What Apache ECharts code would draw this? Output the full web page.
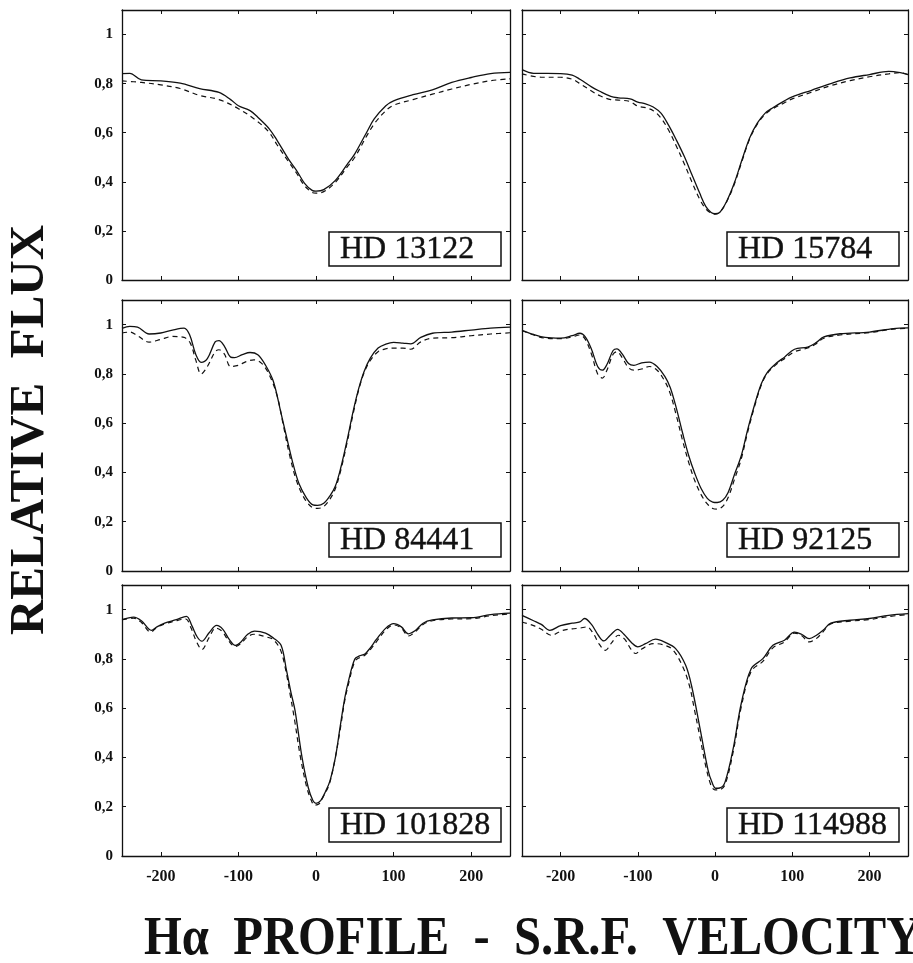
<!DOCTYPE html>
<html>
<head>
<meta charset="utf-8">
<script src="https://cdn.jsdelivr.net/npm/echarts@6/dist/echarts.min.js"></script>
<style>
html,body{margin:0;padding:0;background:#fff;}
#chart{width:913px;height:963px;}
</style>
</head>
<body>
<div id="chart"></div>
<script>
// ---------- tick labels ----------
const xTicks = [-200, -100, 0, 100, 200];
const xTickLabels = ['-200', '-100', '0', '100', '200'];
const yTicks = [0, 0.2, 0.4, 0.6, 0.8, 1];
const yTickLabels = ['0', '0,2', '0,4', '0,6', '0,8', '1'];
const starNames = ['HD 13122', 'HD 15784', 'HD 84441', 'HD 92125', 'HD 101828', 'HD 114988'];

// ---------- data: [velocity km/s, relative flux] ----------
// solid = observed profile, dashed = second profile
const solid13122 = [[-250,0.841],[-240,0.842],[-225,0.815],[-200,0.811],[-175,0.802],[-150,0.780],[-125,0.764],[-110,0.735],[-100,0.710],[-85,0.690],[-75,0.663],[-60,0.615],[-50,0.568],[-35,0.490],[-25,0.446],[-15,0.395],[-5,0.365],[0,0.362],[10,0.368],[25,0.406],[40,0.470],[50,0.514],[65,0.600],[75,0.656],[90,0.710],[100,0.730],[125,0.755],[150,0.775],[175,0.805],[200,0.825],[225,0.841],[250,0.846]];
const dashed13122 = [[-250,0.811],[-225,0.805],[-200,0.795],[-175,0.780],[-150,0.752],[-125,0.735],[-100,0.698],[-75,0.645],[-60,0.600],[-50,0.550],[-35,0.480],[-25,0.435],[-15,0.385],[-5,0.357],[0,0.354],[10,0.360],[25,0.398],[40,0.460],[50,0.500],[65,0.585],[75,0.636],[90,0.690],[100,0.712],[125,0.735],[150,0.757],[175,0.778],[200,0.797],[225,0.812],[250,0.820]];

const solid15784 = [[-250,0.857],[-235,0.842],[-200,0.841],[-185,0.835],[-175,0.818],[-160,0.787],[-150,0.770],[-135,0.748],[-125,0.742],[-110,0.738],[-100,0.725],[-90,0.718],[-80,0.705],[-70,0.680],[-60,0.630],[-50,0.570],[-40,0.505],[-30,0.430],[-20,0.355],[-12,0.300],[-5,0.275],[0,0.270],[6,0.275],[15,0.320],[25,0.395],[35,0.490],[45,0.580],[55,0.640],[65,0.680],[75,0.702],[90,0.730],[100,0.746],[125,0.773],[150,0.800],[175,0.823],[200,0.837],[225,0.850],[240,0.845],[250,0.837]];
const dashed15784 = [[-250,0.840],[-225,0.826],[-200,0.826],[-185,0.818],[-175,0.800],[-160,0.770],[-150,0.752],[-135,0.735],[-125,0.733],[-110,0.727],[-100,0.708],[-90,0.702],[-80,0.690],[-70,0.660],[-60,0.610],[-50,0.545],[-40,0.475],[-30,0.400],[-20,0.330],[-12,0.290],[-5,0.272],[0,0.268],[6,0.275],[15,0.318],[25,0.390],[35,0.485],[45,0.575],[55,0.636],[65,0.675],[75,0.698],[90,0.722],[100,0.738],[125,0.765],[150,0.792],[175,0.812],[200,0.828],[225,0.840],[240,0.845],[250,0.837]];

const solid84441 = [[-250,0.985],[-240,0.993],[-230,0.990],[-215,0.962],[-200,0.966],[-185,0.978],[-170,0.986],[-163,0.960],[-155,0.880],[-148,0.847],[-140,0.862],[-130,0.930],[-125,0.935],[-118,0.912],[-110,0.868],[-105,0.866],[-95,0.878],[-85,0.887],[-75,0.878],[-65,0.835],[-55,0.770],[-45,0.640],[-38,0.545],[-30,0.440],[-22,0.355],[-12,0.295],[-4,0.268],[2,0.266],[10,0.275],[18,0.305],[25,0.345],[32,0.420],[40,0.530],[48,0.650],[55,0.740],[62,0.810],[70,0.864],[80,0.905],[90,0.921],[100,0.928],[112,0.925],[122,0.922],[135,0.948],[150,0.965],[175,0.970],[200,0.978],[225,0.986],[250,0.990]];
const dashed84441 = [[-250,0.966],[-240,0.970],[-230,0.955],[-215,0.929],[-200,0.940],[-185,0.952],[-170,0.948],[-162,0.925],[-155,0.857],[-148,0.800],[-140,0.830],[-130,0.890],[-125,0.898],[-118,0.880],[-110,0.830],[-100,0.835],[-90,0.850],[-80,0.857],[-70,0.843],[-60,0.795],[-50,0.710],[-42,0.590],[-34,0.470],[-25,0.365],[-15,0.295],[-5,0.258],[2,0.254],[10,0.262],[18,0.292],[25,0.335],[32,0.410],[40,0.520],[48,0.640],[55,0.735],[62,0.805],[70,0.855],[80,0.890],[90,0.902],[100,0.905],[112,0.905],[122,0.900],[135,0.930],[150,0.945],[175,0.947],[200,0.955],[225,0.962],[250,0.967]];

const solid92125 = [[-250,0.977],[-235,0.960],[-220,0.948],[-200,0.945],[-185,0.955],[-175,0.965],[-168,0.950],[-160,0.900],[-152,0.830],[-146,0.815],[-140,0.838],[-132,0.895],[-127,0.902],[-120,0.880],[-112,0.842],[-105,0.835],[-95,0.845],[-85,0.848],[-75,0.830],[-65,0.790],[-58,0.745],[-50,0.660],[-42,0.560],[-34,0.468],[-26,0.395],[-18,0.335],[-10,0.295],[-3,0.280],[3,0.278],[10,0.287],[17,0.319],[25,0.390],[34,0.468],[42,0.570],[51,0.672],[60,0.760],[68,0.807],[80,0.845],[90,0.868],[103,0.900],[120,0.909],[130,0.925],[141,0.950],[162,0.963],[200,0.970],[231,0.984],[250,0.987]];
const dashed92125 = [[-250,0.975],[-235,0.958],[-220,0.945],[-200,0.943],[-185,0.950],[-175,0.958],[-168,0.940],[-160,0.880],[-152,0.800],[-146,0.783],[-140,0.815],[-132,0.880],[-127,0.890],[-120,0.865],[-112,0.825],[-105,0.815],[-95,0.820],[-85,0.830],[-75,0.815],[-65,0.770],[-58,0.720],[-50,0.630],[-42,0.530],[-34,0.440],[-26,0.365],[-18,0.310],[-10,0.272],[-3,0.254],[3,0.251],[10,0.262],[17,0.298],[25,0.370],[34,0.455],[42,0.560],[51,0.665],[60,0.755],[68,0.803],[80,0.840],[90,0.862],[103,0.890],[120,0.905],[130,0.920],[141,0.945],[162,0.958],[200,0.968],[231,0.982],[250,0.985]];

const solid101828 = [[-250,0.959],[-235,0.970],[-225,0.955],[-212,0.916],[-205,0.930],[-195,0.945],[-180,0.959],[-167,0.973],[-160,0.935],[-153,0.889],[-147,0.872],[-138,0.905],[-128,0.936],[-120,0.920],[-112,0.880],[-104,0.855],[-97,0.868],[-88,0.900],[-79,0.913],[-65,0.905],[-55,0.885],[-45,0.855],[-38,0.753],[-32,0.660],[-27,0.590],[-18,0.400],[-10,0.278],[-4,0.225],[0,0.214],[6,0.225],[12,0.260],[18,0.305],[25,0.400],[31,0.522],[37,0.640],[42,0.712],[50,0.800],[56,0.812],[63,0.820],[70,0.845],[78,0.880],[90,0.925],[100,0.943],[110,0.930],[119,0.902],[128,0.915],[138,0.945],[150,0.958],[175,0.966],[200,0.967],[225,0.980],[250,0.986]];
const dashed101828 = [[-250,0.959],[-235,0.965],[-225,0.948],[-213,0.909],[-205,0.928],[-195,0.942],[-180,0.955],[-168,0.962],[-161,0.925],[-154,0.870],[-147,0.838],[-138,0.885],[-129,0.925],[-121,0.912],[-113,0.875],[-104,0.850],[-97,0.862],[-88,0.890],[-80,0.900],[-65,0.890],[-55,0.878],[-46,0.838],[-40,0.770],[-33,0.650],[-28,0.560],[-20,0.400],[-12,0.280],[-6,0.225],[-2,0.206],[4,0.212],[10,0.245],[17,0.290],[24,0.385],[31,0.510],[37,0.630],[42,0.700],[50,0.790],[56,0.805],[63,0.815],[70,0.838],[78,0.870],[90,0.918],[100,0.938],[110,0.925],[119,0.893],[128,0.910],[138,0.940],[150,0.955],[175,0.962],[200,0.963],[225,0.975],[250,0.983]];

const solid114988 = [[-250,0.977],[-235,0.955],[-225,0.940],[-214,0.916],[-200,0.935],[-185,0.945],[-175,0.950],[-169,0.964],[-160,0.940],[-151,0.895],[-144,0.873],[-136,0.895],[-126,0.920],[-118,0.900],[-108,0.866],[-100,0.849],[-90,0.862],[-77,0.880],[-65,0.868],[-51,0.842],[-38,0.774],[-30,0.686],[-19,0.511],[-9,0.349],[-4,0.300],[1,0.275],[6,0.276],[13,0.300],[24,0.443],[34,0.619],[47,0.761],[62,0.801],[75,0.855],[90,0.876],[103,0.909],[112,0.900],[122,0.882],[131,0.895],[140,0.916],[150,0.945],[175,0.957],[200,0.964],[225,0.977],[250,0.984]];
const dashed114988 = [[-250,0.950],[-235,0.935],[-225,0.920],[-212,0.896],[-198,0.915],[-185,0.922],[-175,0.925],[-166,0.930],[-158,0.905],[-150,0.860],[-142,0.835],[-134,0.865],[-125,0.896],[-117,0.880],[-109,0.840],[-103,0.822],[-95,0.840],[-80,0.862],[-68,0.858],[-55,0.838],[-42,0.770],[-33,0.690],[-27,0.600],[-20,0.490],[-12,0.365],[-5,0.285],[0,0.268],[5,0.268],[13,0.290],[24,0.430],[34,0.605],[47,0.750],[62,0.790],[75,0.845],[90,0.869],[103,0.905],[112,0.895],[122,0.869],[131,0.882],[140,0.910],[150,0.942],[175,0.953],[200,0.960],[225,0.972],[250,0.980]];

const solidSeries = [solid13122, solid15784, solid84441, solid92125, solid101828, solid114988];
const dashedSeries = [dashed13122, dashed15784, dashed84441, dashed92125, dashed101828, dashed114988];

// ---------- layout ----------
const colLeft = [122, 522];
const colWidth = [388, 386];
const rowTop = [10, 300, 585];
const rowHeight = [270, 271, 271];

const SERIF = "'Liberation Serif', 'DejaVu Serif', serif";
const INK = '#111';

const grids = [], xAxes = [], yAxes = [], series = [], graphics = [];

for (let i = 0; i < 6; i++) {
  const r = Math.floor(i / 2), c = i % 2;
  const g = { left: colLeft[c], top: rowTop[r], width: colWidth[c], height: rowHeight[r],
              show: false, containLabel: false };
  grids.push(g);

  const tickCommon = { show: true, inside: true, length: 4, lineStyle: { color: INK, width: 1 } };
  const lineCommon = { show: true, onZero: false, lineStyle: { color: INK, width: 1.3 } };

  xAxes.push({
    type: 'value', gridIndex: i, min: -250, max: 250, position: 'bottom',
    axisLine: lineCommon,
    axisTick: Object.assign({ customValues: xTicks }, tickCommon),
    axisLabel: {
      show: r === 2, customValues: xTicks, margin: 13,
      formatter: v => { const k = xTicks.indexOf(v); return k >= 0 ? xTickLabels[k] : ''; },
      fontFamily: SERIF, fontWeight: 'bold', fontSize: 16, color: INK
    },
    splitLine: { show: false }
  });
  xAxes.push({
    type: 'value', gridIndex: i, min: -250, max: 250, position: 'top',
    axisLine: lineCommon,
    axisTick: Object.assign({ customValues: xTicks }, tickCommon),
    axisLabel: { show: false },
    splitLine: { show: false }
  });
  yAxes.push({
    type: 'value', gridIndex: i, min: 0, max: 1.1, position: 'left',
    axisLine: lineCommon,
    axisTick: Object.assign({ customValues: yTicks }, tickCommon),
    axisLabel: {
      show: c === 0, customValues: yTicks, margin: 9,
      formatter: v => { const k = yTicks.findIndex(t => Math.abs(t - v) < 1e-6); return k >= 0 ? yTickLabels[k] : ''; },
      fontFamily: SERIF, fontWeight: 'bold', fontSize: 15, color: INK
    },
    splitLine: { show: false }
  });
  yAxes.push({
    type: 'value', gridIndex: i, min: 0, max: 1.1, position: 'right',
    axisLine: lineCommon,
    axisTick: Object.assign({ customValues: yTicks }, tickCommon),
    axisLabel: { show: false },
    splitLine: { show: false }
  });

  series.push({
    type: 'line', xAxisIndex: 2 * i, yAxisIndex: 2 * i, data: dashedSeries[i],
    smooth: 0.35, showSymbol: false, symbol: 'none', silent: true,
    lineStyle: { color: INK, width: 1.2, type: [5, 4] }, z: 2
  });
  series.push({
    type: 'line', xAxisIndex: 2 * i, yAxisIndex: 2 * i, data: solidSeries[i],
    smooth: 0.35, showSymbol: false, symbol: 'none', silent: true,
    lineStyle: { color: INK, width: 1.3 }, z: 3
  });

  // name box
  const boxW = 172, boxH = 34;
  const bx = g.left + g.width - 9 - boxW;
  const by = g.top + g.height - 14 - boxH;
  graphics.push({
    type: 'group', x: bx, y: by, z: 10,
    children: [
      { type: 'rect', shape: { x: 0, y: 0, width: boxW, height: boxH },
        style: { fill: '#fff', stroke: INK, lineWidth: 1.5 } },
      { type: 'text', x: 11, y: boxH / 2 + 1,
        style: { text: starNames[i], font: "32px " + SERIF, fill: INK,
                 stroke: INK, lineWidth: 0.4,
                 textAlign: 'left', textVerticalAlign: 'middle' } }
    ]
  });
}

// axis titles
graphics.push({
  type: 'text', x: 30, y: 430, rotation: Math.PI / 2, z: 10,
  style: { text: 'RELATIVE  FLUX', font: "bold 49px " + SERIF, fill: INK,
           textAlign: 'center', textVerticalAlign: 'middle' }
});
graphics.push({
  type: 'text', x: 144, y: 940, scaleX: 0.9, z: 10,
  style: { text: 'H\u03B1  PROFILE  -  S.R.F.  VELOCITY', font: "bold 54px " + SERIF, fill: INK,
           textAlign: 'left', textVerticalAlign: 'middle' }
});

const chart = echarts.init(document.getElementById('chart'), null, { renderer: 'canvas' });
chart.setOption({
  backgroundColor: '#fff',
  animation: false,
  grid: grids,
  xAxis: xAxes,
  yAxis: yAxes,
  series: series,
  graphic: graphics
});
</script>
</body>
</html>
